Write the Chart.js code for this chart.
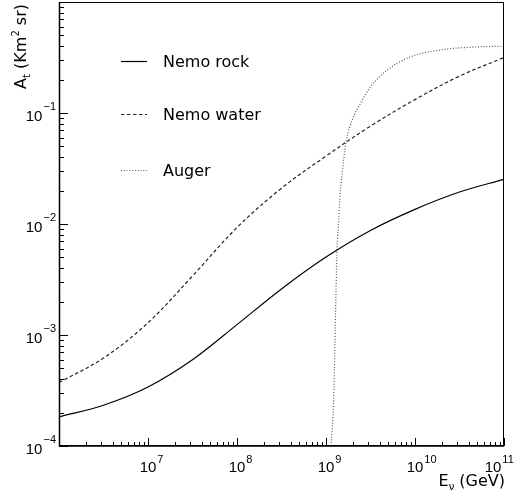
<!DOCTYPE html>
<html>
<head>
<meta charset="utf-8">
<script src="https://cdn.jsdelivr.net/npm/chart.js@4/dist/chart.umd.min.js"></script>
<style>
  body { margin: 0; background: #fff; }
</style>
</head>
<body>
<canvas id="acceptance" width="527" height="497"></canvas>
<script>
// energies in GeV, acceptance in km^2 sr
const rockE  = [1e6, 3.16e6, 1e7, 3.16e7, 1e8, 3.16e8, 1e9, 3.16e9, 1e10, 3.16e10, 1e11];
const rockA  = [1.83e-4, 2.33e-4, 3.40e-4, 5.98e-4, 1.24e-3, 2.6e-3, 5.04e-3, 8.75e-3, 1.355e-2, 1.94e-2, 2.53e-2];

const waterE = [1e6, 3.16e6, 1e7, 3.16e7, 1e8, 3.16e8, 1e9, 3.16e9, 1e10, 3.16e10, 1e11];
const waterA = [3.73e-4, 6.19e-4, 1.29e-3, 3.40e-3, 9.3e-3, 2.10e-2, 4.09e-2, 7.62e-2, 0.132, 0.215, 0.316];

const augerE = [1.14e9, 1.22e9, 1.29e9, 1.33e9, 1.39e9, 1.43e9, 1.58e9, 1.69e9, 1.97e9, 2.44e9, 3.16e9, 4.87e9, 8.9e9, 2.1e10, 5e10, 1e11];
const augerA = [1e-4, 2.64e-4, 2.1e-3, 5.97e-3, 1.09e-2, 1.66e-2, 3.79e-2, 5.64e-2, 8.65e-2, 0.122, 0.172, 0.243, 0.321, 0.373, 0.394, 0.40];

const xDecades = [7, 8, 9, 10, 11];
const yDecades = [-4, -3, -2, -1];

const toPoints = (xs, ys) => xs.map((x, i) => ({ x: x, y: ys[i] }));

// ROOT style frame, inward ticks, 10^n labels, titles and legend
const rootFrame = {
    id: 'rootFrame',
    afterDraw(chart) {
        const ctx = chart.ctx;
        const area = chart.chartArea;
        const xs = chart.scales.x;
        const ys = chart.scales.y;

        ctx.save();
        ctx.strokeStyle = '#000';
        ctx.lineWidth = 1;
        ctx.strokeRect(area.left + 0.5, area.top + 0.5, area.right - area.left - 1, area.bottom - area.top - 1);
        ctx.lineWidth = 1.5;
        ctx.beginPath();
        ctx.moveTo(area.left + 0.5, area.top);
        ctx.lineTo(area.left + 0.5, area.bottom);
        ctx.lineTo(area.right, area.bottom);
        ctx.stroke();

        // ticks
        ctx.lineWidth = 1;
        ctx.beginPath();
        for (let e = 6; e <= 11; e++) {
            for (let m = 1; m <= 9; m++) {
                const v = m * Math.pow(10, e);
                if (v < xs.min * 0.999 || v > xs.max * 1.001) continue;
                const px = Math.round(xs.getPixelForValue(v)) + 0.5;
                const len = m === 1 ? 8 : 4;
                ctx.moveTo(px, area.bottom);
                ctx.lineTo(px, area.bottom - len);
            }
        }
        for (let e = -4; e <= 0; e++) {
            for (let m = 1; m <= 9; m++) {
                const v = m * Math.pow(10, e);
                if (v < ys.min * 0.999 || v > ys.max * 1.001) continue;
                const py = Math.round(ys.getPixelForValue(v)) + 0.5;
                const len = m === 1 ? 9 : 5;
                ctx.moveTo(area.left, py);
                ctx.lineTo(area.left + len, py);
            }
        }
        ctx.stroke();

        // tick labels
        ctx.fillStyle = '#000';
        ctx.textBaseline = 'alphabetic';
        const big = '15px "Liberation Sans", Arial, sans-serif';
        const small = '11px "Liberation Sans", Arial, sans-serif';
        xDecades.forEach(e => {
            let cx = xs.getPixelForValue(Math.pow(10, e));
            if (e === 11) cx -= 11;
            ctx.font = big;
            ctx.textAlign = 'center';
            ctx.fillText('10', cx, 472);
            const w = ctx.measureText('10').width;
            ctx.font = small;
            ctx.textAlign = 'left';
            ctx.fillText(String(e), cx + w / 2 + 1, 463);
        });
        yDecades.forEach(e => {
            const py = ys.getPixelForValue(Math.pow(10, e));
            ctx.font = small;
            ctx.textAlign = 'right';
            ctx.fillText('\u2212' + Math.abs(e), 56, py - 3);
            const we = ctx.measureText('\u2212' + Math.abs(e)).width;
            ctx.font = big;
            ctx.fillText('10', 56 - we - 1, py + 8);
        });

        // x title: E_nu (GeV)
        const tfont = '16px "DejaVu Sans", sans-serif';
        const sfont = '10px "DejaVu Sans", sans-serif';
        ctx.textAlign = 'left';
        const xParts = [['E', tfont, 0], ['\u03bd', sfont, 4], [' (GeV)', tfont, 0]];
        let total = 0;
        xParts.forEach(p => { ctx.font = p[1]; total += ctx.measureText(p[0]).width; });
        let x0 = 505 - total;
        xParts.forEach(p => {
            ctx.font = p[1];
            ctx.fillText(p[0], x0, 486 + p[2]);
            x0 += ctx.measureText(p[0]).width;
        });

        // y title: A_t (Km^2 sr)
        const yParts = [['A', tfont, 0], ['t', sfont, 4], [' (Km', tfont, 0], ['2', sfont, -7], [' sr)', tfont, 0]];
        ctx.save();
        total = 0;
        yParts.forEach(p => { ctx.font = p[1]; total += ctx.measureText(p[0]).width; });
        ctx.translate(26, 4 + total);
        ctx.rotate(-Math.PI / 2);
        let t0 = 0;
        yParts.forEach(p => {
            ctx.font = p[1];
            ctx.fillText(p[0], t0, p[2]);
            t0 += ctx.measureText(p[0]).width;
        });
        ctx.restore();

        // legend
        const rows = [61, 114, 170];
        chart.data.datasets.forEach((ds, i) => {
            ctx.save();
            ctx.strokeStyle = ds.borderColor;
            ctx.lineWidth = ds.borderWidth;
            ctx.setLineDash(ds.borderDash || []);
            ctx.beginPath();
            ctx.moveTo(121, rows[i] + 0.5);
            ctx.lineTo(147, rows[i] + 0.5);
            ctx.stroke();
            ctx.restore();
            ctx.font = tfont;
            ctx.fillStyle = '#000';
            ctx.textAlign = 'left';
            ctx.fillText(ds.label, 163, rows[i] + 6);
        });
        ctx.restore();
    }
};

new Chart(document.getElementById('acceptance'), {
    type: 'line',
    data: {
        datasets: [
            {
                label: 'Nemo rock',
                data: toPoints(rockE, rockA),
                borderColor: '#000',
                borderWidth: 1.2,
                borderDash: [],
                tension: 0.35,
            },
            {
                label: 'Nemo water',
                data: toPoints(waterE, waterA),
                borderColor: '#222',
                borderWidth: 1.2,
                borderDash: [3.5, 2.5],
                tension: 0.35,
            },
            {
                label: 'Auger',
                data: toPoints(augerE, augerA),
                borderColor: '#555',
                borderWidth: 1.2,
                borderDash: [1, 1.8],
                cubicInterpolationMode: 'monotone',
            },
        ]
    },
    options: {
        responsive: false,
        animation: false,
        layout: { padding: { left: 59, right: 23, top: 2, bottom: 51 } },
        elements: {
            point: { radius: 0 },
            line: { fill: false }
        },
        scales: {
            x: { type: 'logarithmic', min: 1e6, max: 1e11, display: false },
            y: { type: 'logarithmic', min: 1e-4, max: 1, display: false }
        },
        plugins: {
            legend: { display: false },
            tooltip: { enabled: false }
        }
    },
    plugins: [rootFrame]
});
</script>
</body>
</html>
